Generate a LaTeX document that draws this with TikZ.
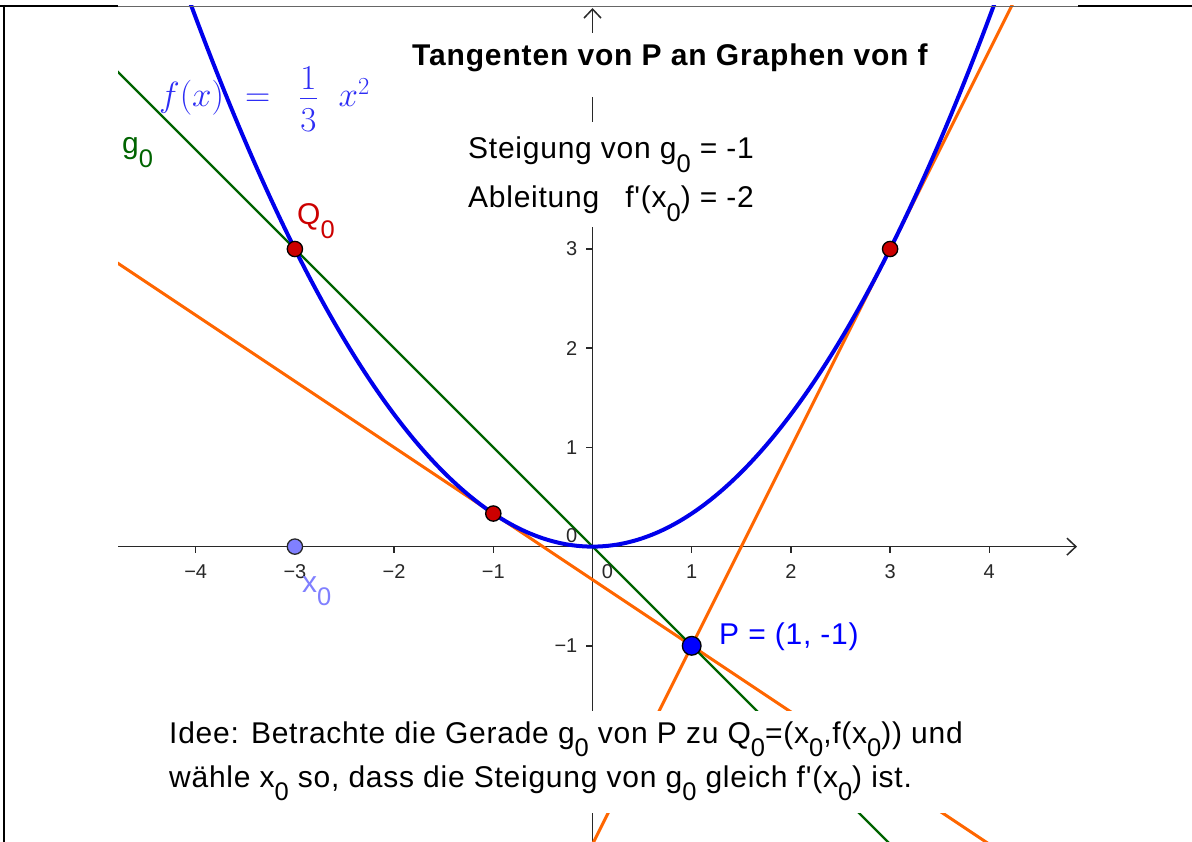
\RequirePackage{fix-cm}
\documentclass[tikz,border=0pt]{standalone}
\usepackage[no-math]{fontspec}
\setmainfont{Liberation Sans}[Ligatures=TeXOff]
\newfontfamily\txtfam{Liberation Sans}[LetterSpace=2.5,Ligatures=TeXOff]
\newfontfamily\ttlfam{Liberation Sans}[LetterSpace=2.8,Ligatures=TeXOff]
\newfontfamily\tickfam{Liberation Sans}[Ligatures=TeXOff]
\usepackage{graphicx}
\usetikzlibrary{arrows.meta}

\definecolor{cblue}{RGB}{0,0,235}
\definecolor{fblue}{RGB}{45,45,245}
\definecolor{pblue}{RGB}{0,0,255}
\definecolor{xblue}{RGB}{128,128,255}
\definecolor{qred}{RGB}{204,0,0}
\definecolor{ggreen}{RGB}{0,100,0}
\definecolor{orng}{RGB}{255,102,0}
\definecolor{axgray}{RGB}{40,40,40}

\newcommand{\txtfont}{\txtfam\fontsize{30}{36}\selectfont}
\newcommand{\ttlfont}{\ttlfam\bfseries\fontsize{30}{36}\selectfont}
\newcommand{\tickfont}{\tickfam\fontsize{20}{24}\selectfont}
\newcommand{\subz}[1]{\raisebox{-0.45em}{\scalebox{0.85}{#1}}}

\begin{document}
\begin{tikzpicture}[x=1pt,y=-1pt,
  axisline/.style={draw=axgray, line width=1.5pt},
  tickline/.style={draw=axgray, line width=1.5pt},
  ticklabel/.style={font=\tickfont, text=axgray, inner sep=0pt},
  curveline/.style={draw=cblue, line width=4pt},
  gline/.style={draw=ggreen, line width=2.3pt},
  oline/.style={draw=orng, line width=3pt},
  redpt/.style={circle, fill=qred, draw=black, line width=1.3pt, minimum size=15.3pt, inner sep=0pt},
  ppt/.style={circle, fill=pblue, draw=black, line width=1.3pt, minimum size=18.7pt, inner sep=0pt},
  xpt/.style={circle, fill=xblue, draw=axgray, line width=1.3pt, minimum size=15.3pt, inner sep=0pt},
  txt/.style={font=\txtfont, inner sep=0pt, anchor=base west},
  ttl/.style={font=\ttlfont, inner sep=0pt, anchor=base west},
  axtip/.tip={Straight Barb[length=9pt,width=17pt]}
]
\useasboundingbox (0,0) rectangle (1192,842);
\fill[white] (0,0) rectangle (1192,842);

\begin{scope}
  \clip (118,6) rectangle (1078,842);
  % axes
  \draw[axisline,-axtip] (118,546.6) -- (1077,546.6);
  \draw[axisline,-axtip] (592.5,842) -- (592.5,8);
  % ticks
  \foreach \k in {-4,-3,-2,-1,1,2,3,4}
    \draw[tickline] ({592.5+99.2*\k},546.6) -- ({592.5+99.2*\k},553);
  \foreach \k in {3,2,1,-1}
    \draw[tickline] (586,{546.6-99.2*\k}) -- (592.5,{546.6-99.2*\k});
  % graph
  \begin{scope}[shift={(592.5,546.6)},x=99.2pt,y=99.2pt]
    \draw[oline] (-5,3) -- (5,-3.6667);
    \draw[oline] (-1,-5) -- (4.5,6);
    \draw[gline] (-5,5) -- (4,-4);
    \draw[curveline] plot[domain=-4.2:4.2,samples=161,smooth] (\x,{\x*\x/3});
    \node[redpt] (Q0) at (-3,3) {};
    \node[redpt] (T1) at (-1,0.3333) {};
    \node[redpt] (T2) at (3,3) {};
    \node[ppt] (P) at (1,-1) {};
    \node[xpt] (X0) at (-3,0) {};
  \end{scope}
\end{scope}

% tick labels
\foreach \k/\t/\n in {-4/−4/m4,-3/−3/m3,-2/−2/m2,-1/−1/m1,1/1/p1,2/2/p2,3/3/p3,4/4/p4}
  \node[ticklabel, anchor=base] (xl\n) at ({592.5+99.2*\k},578.5) {\t};
\node[ticklabel, anchor=base] (xl0) at (607.5,578.5) {0};
\foreach \k/\t/\n in {3/3/p3,2/2/p2,1/1/p1,-1/−1/m1}
  \node[ticklabel, anchor=base east] (yl\n) at (577.5,{546.6-99.2*\k+7}) {\t};
\node[ticklabel, anchor=base east] (yl0) at (577.5,542) {0};

% text backgrounds
\fill[white] (405,33) rectangle (940,97);
\fill[white] (460,122) rectangle (770,227);
\fill[white] (160,711) rectangle (975,813);

% texts
\node[ttl] (title) at (412,66) {Tangenten von P an Graphen von f};
\node[txt] (steig) at (468,159) {Steigung von g\subz{0} = -1};
\node[txt] (abl) at (468,208) {Ableitung\hspace{26pt}f'(x\subz{0}) = -2};
\node[txt] (idee1) at (169,743) {Idee: Betrachte die Gerade g\subz{0} von P zu Q\subz{0}=(x\subz{0},f(x\subz{0})) und};
\node[txt] (idee2) at (169,787) {wähle x\subz{0} so, dass die Steigung von g\subz{0} gleich f'(x\subz{0}) ist.};

% labels
\node[txt, text=ggreen] (g0lab) at (122,154) {g\subz{0}};
\node[txt, text=qred] (Q0lab) at (297,225) {Q\subz{0}};
\node[txt, text=xblue] (x0lab) at (302,592) {x\subz{0}};
\node[txt, text=pblue] (Plab) at (719,644) {P = (1, -1)};
\node[anchor=base west, inner sep=0pt, text=fblue, font=\fontsize{35}{40}\selectfont] (flab) at (159,107)
  {${f(x)}\hspace{21pt}{=}\hspace{29pt}{\displaystyle\frac{\raisebox{-6pt}{$1$}}{3}}\hspace{21pt}{x^{2}}$};

% frame
\draw[line width=2.3pt] (0,6.2) -- (118,6.2);
\draw[line width=2.3pt] (1078,6.2) -- (1192,6.2);
\draw[draw=black!60, line width=1pt] (118,6.5) -- (1078,6.5);
\draw[line width=2pt] (3.7,5) -- (3.7,842);
\end{tikzpicture}
\end{document}
